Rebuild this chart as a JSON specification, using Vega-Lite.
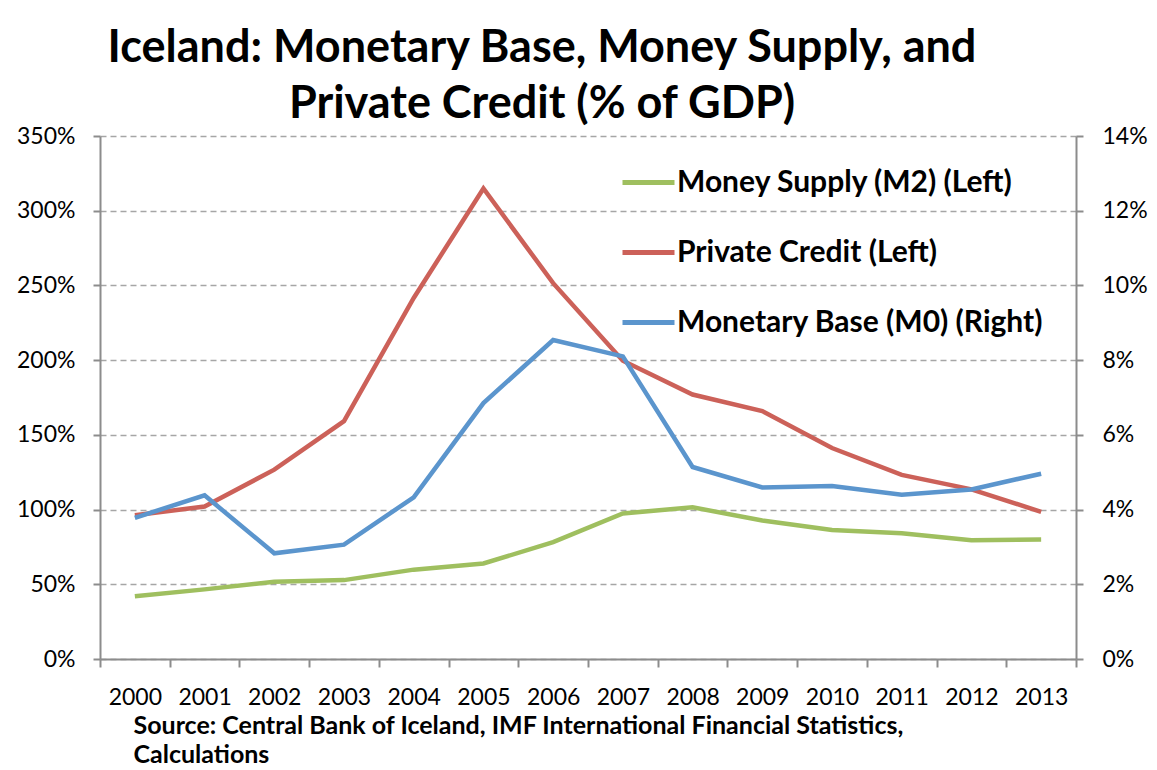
{
  "$schema": "https://vega.github.io/schema/vega-lite/v6.json",
  "width": 976,
  "height": 523,
  "autosize": {"type": "none"},
  "padding": {"left": 100, "top": 136, "right": 81, "bottom": 111},
  "background": "white",
  "title": {
    "text": ["Iceland: Monetary Base, Money Supply, and", "Private Credit (% of GDP)"],
    "font": "Lato",
    "fontWeight": "bold",
    "fontSize": 45,
    "lineHeight": 56,
    "color": "black",
    "anchor": "middle",
    "frame": "group",
    "dx": -46,
    "offset": -2
  },
  "config": {
    "view": {"stroke": null},
    "axis": {
      "labelFont": "Lato",
      "labelFontSize": 23,
      "labelColor": "black",
      "domainColor": "#8c8c8c",
      "domainWidth": 2,
      "tickColor": "#8c8c8c",
      "tickWidth": 2,
      "tickSize": 7,
      "gridColor": "#a6a6a6",
      "gridWidth": 1.5,
      "gridDash": [6, 4]
    },
    "legend": {
      "orient": "none",
      "legendX": 520,
      "legendY": 18,
      "symbolType": "stroke",
      "symbolSize": 2704,
      "symbolStrokeWidth": 5,
      "labelFont": "Lato",
      "labelFontWeight": "bold",
      "labelFontSize": 30,
      "labelColor": "black",
      "labelOffset": 0,
      "rowPadding": 26,
      "title": null,
      "labelLimit": 600
    }
  },
  "data": {
    "values": [
      {"year": "2000", "series": "Money Supply (M2) (Left)", "value": 0.420},
      {"year": "2001", "series": "Money Supply (M2) (Left)", "value": 0.466},
      {"year": "2002", "series": "Money Supply (M2) (Left)", "value": 0.517},
      {"year": "2003", "series": "Money Supply (M2) (Left)", "value": 0.528},
      {"year": "2004", "series": "Money Supply (M2) (Left)", "value": 0.598},
      {"year": "2005", "series": "Money Supply (M2) (Left)", "value": 0.639},
      {"year": "2006", "series": "Money Supply (M2) (Left)", "value": 0.782},
      {"year": "2007", "series": "Money Supply (M2) (Left)", "value": 0.974},
      {"year": "2008", "series": "Money Supply (M2) (Left)", "value": 1.015},
      {"year": "2009", "series": "Money Supply (M2) (Left)", "value": 0.927},
      {"year": "2010", "series": "Money Supply (M2) (Left)", "value": 0.863},
      {"year": "2011", "series": "Money Supply (M2) (Left)", "value": 0.842},
      {"year": "2012", "series": "Money Supply (M2) (Left)", "value": 0.794},
      {"year": "2013", "series": "Money Supply (M2) (Left)", "value": 0.800},
      {"year": "2000", "series": "Private Credit (Left)", "value": 0.962},
      {"year": "2001", "series": "Private Credit (Left)", "value": 1.020},
      {"year": "2002", "series": "Private Credit (Left)", "value": 1.267},
      {"year": "2003", "series": "Private Credit (Left)", "value": 1.592},
      {"year": "2004", "series": "Private Credit (Left)", "value": 2.416},
      {"year": "2005", "series": "Private Credit (Left)", "value": 3.149},
      {"year": "2006", "series": "Private Credit (Left)", "value": 2.515},
      {"year": "2007", "series": "Private Credit (Left)", "value": 1.996},
      {"year": "2008", "series": "Private Credit (Left)", "value": 1.770},
      {"year": "2009", "series": "Private Credit (Left)", "value": 1.659},
      {"year": "2010", "series": "Private Credit (Left)", "value": 1.412},
      {"year": "2011", "series": "Private Credit (Left)", "value": 1.232},
      {"year": "2012", "series": "Private Credit (Left)", "value": 1.135},
      {"year": "2013", "series": "Private Credit (Left)", "value": 0.985},
      {"year": "2000", "series": "Monetary Base (M0) (Right)", "value": 0.0378},
      {"year": "2001", "series": "Monetary Base (M0) (Right)", "value": 0.0438},
      {"year": "2002", "series": "Monetary Base (M0) (Right)", "value": 0.0283},
      {"year": "2003", "series": "Monetary Base (M0) (Right)", "value": 0.0306},
      {"year": "2004", "series": "Monetary Base (M0) (Right)", "value": 0.0433},
      {"year": "2005", "series": "Monetary Base (M0) (Right)", "value": 0.0685},
      {"year": "2006", "series": "Monetary Base (M0) (Right)", "value": 0.0854},
      {"year": "2007", "series": "Monetary Base (M0) (Right)", "value": 0.0810},
      {"year": "2008", "series": "Monetary Base (M0) (Right)", "value": 0.0514},
      {"year": "2009", "series": "Monetary Base (M0) (Right)", "value": 0.0459},
      {"year": "2010", "series": "Monetary Base (M0) (Right)", "value": 0.0463},
      {"year": "2011", "series": "Monetary Base (M0) (Right)", "value": 0.0440},
      {"year": "2012", "series": "Monetary Base (M0) (Right)", "value": 0.0454},
      {"year": "2013", "series": "Monetary Base (M0) (Right)", "value": 0.0496}
    ]
  },
  "encoding": {
    "x": {
      "field": "year",
      "type": "ordinal",
      "bandPosition": 0.5,
      "scale": {"type": "band", "paddingInner": 0, "paddingOuter": 0},
      "axis": {
        "labelAngle": 0,
        "tickBand": "extent",
        "tickSize": 8,
        "labelPadding": 19,
        "grid": false,
        "title": ["Source: Central Bank of Iceland, IMF International Financial Statistics,", "Calculations"],
        "titleFont": "Lato",
        "titleFontWeight": "bold",
        "titleFontSize": 25,
        "titleColor": "black",
        "titleAlign": "left",
        "titleAnchor": "start",
        "titleBaseline": "alphabetic",
        "titleLineHeight": 29,
        "titleX": 33,
        "titleY": 74
      }
    },
    "color": {
      "field": "series",
      "type": "nominal",
      "scale": {
        "domain": ["Money Supply (M2) (Left)", "Private Credit (Left)", "Monetary Base (M0) (Right)"],
        "range": ["#9fbf5f", "#cc6159", "#5b95cd"]
      }
    }
  },
  "layer": [
    {
      "transform": [{"filter": "datum.series != 'Monetary Base (M0) (Right)'"}],
      "mark": {"type": "line", "strokeWidth": 4.5},
      "encoding": {
        "y": {
          "field": "value",
          "type": "quantitative",
          "scale": {"domain": [0, 3.5], "nice": false},
          "axis": {
            "orient": "left",
            "values": [0, 0.5, 1, 1.5, 2, 2.5, 3, 3.5],
            "format": ".0%",
            "grid": true,
            "labelPadding": 18,
            "title": null
          }
        }
      }
    },
    {
      "transform": [{"filter": "datum.series == 'Monetary Base (M0) (Right)'"}],
      "mark": {"type": "line", "strokeWidth": 4.5},
      "encoding": {
        "y": {
          "field": "value",
          "type": "quantitative",
          "scale": {"domain": [0, 0.14], "nice": false},
          "axis": {
            "orient": "right",
            "values": [0, 0.02, 0.04, 0.06, 0.08, 0.1, 0.12, 0.14],
            "format": ".0%",
            "grid": false,
            "labelPadding": 19,
            "title": null
          }
        }
      }
    }
  ],
  "resolve": {"scale": {"y": "independent"}}
}
